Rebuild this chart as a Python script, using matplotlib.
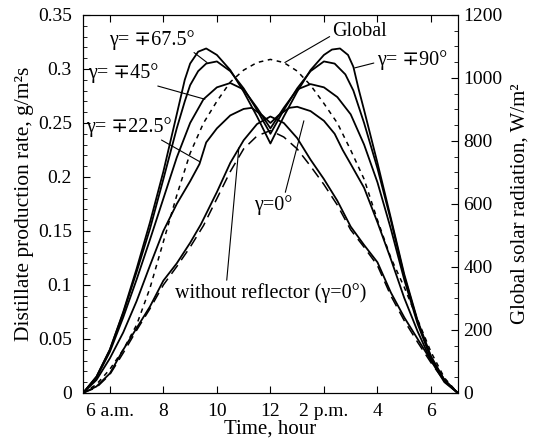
import matplotlib
matplotlib.use('Agg')
import matplotlib.pyplot as plt
import numpy as np
from matplotlib.ticker import MultipleLocator

plt.rcParams['font.family'] = ['Liberation Serif', 'DejaVu Serif']
plt.rcParams['font.size'] = 14.5

# time, hour (5 = 5 a.m., 19 = 7 p.m.)
t_90 = [5.0, 5.5, 6.0, 6.5, 7.0, 7.5, 8.0, 8.5, 8.8, 9.0, 9.3, 9.6, 10.0, 10.5, 11.0, 11.5, 12.0,
        12.5, 13.0, 13.5, 14.0, 14.3, 14.6, 14.9, 15.1, 15.3, 15.5, 16.0, 16.5, 17.0, 17.5, 18.0, 18.5, 19.0]
p_90 = [0, 0.015, 0.04, 0.075, 0.115, 0.158, 0.205, 0.258, 0.29, 0.305, 0.316, 0.319, 0.313, 0.299, 0.279, 0.256, 0.231,
        0.256, 0.279, 0.299, 0.313, 0.318, 0.319, 0.313, 0.302, 0.281, 0.262, 0.213, 0.162, 0.11, 0.067, 0.034, 0.012, 0]

t_67 = [5.0, 5.5, 6.0, 6.5, 7.0, 7.5, 8.0, 8.5, 8.8, 9.0, 9.3, 9.6, 10.0, 10.5, 11.0, 11.5, 12.0,
        12.5, 13.0, 13.5, 14.0, 14.4, 14.8, 15.1, 15.3, 15.5, 16.0, 16.5, 17.0, 17.5, 18.0, 18.5, 19.0]
p_67 = [0, 0.015, 0.04, 0.074, 0.112, 0.152, 0.198, 0.245, 0.27, 0.285, 0.298, 0.305, 0.307, 0.298, 0.282, 0.262, 0.24,
        0.262, 0.282, 0.298, 0.307, 0.305, 0.295, 0.28, 0.265, 0.25, 0.208, 0.16, 0.108, 0.066, 0.033, 0.012, 0]

t_45 = [5.0, 5.5, 6.0, 6.5, 7.0, 7.5, 8.0, 8.5, 9.0, 9.5, 10.0, 10.5, 11.0, 11.5, 12.0,
        12.5, 13.0, 13.5, 14.0, 14.5, 15.0, 15.5, 16.0, 16.5, 17.0, 17.5, 18.0, 18.5, 19.0]
p_45 = [0, 0.014, 0.038, 0.07, 0.105, 0.142, 0.18, 0.218, 0.25, 0.272, 0.283, 0.287, 0.281, 0.264, 0.245,
        0.264, 0.281, 0.286, 0.283, 0.274, 0.258, 0.23, 0.195, 0.152, 0.105, 0.064, 0.032, 0.011, 0]

t_22 = [5.0, 5.5, 6.0, 6.5, 7.0, 7.5, 8.0, 8.5, 9.0, 9.35, 9.6, 10.0, 10.5, 11.0, 11.3, 11.7, 12.0,
        12.3, 12.7, 13.0, 13.5, 14.0, 14.4, 14.7, 15.0, 15.5, 16.0, 16.5, 17.0, 17.5, 18.0, 18.5, 19.0]
p_22 = [0, 0.012, 0.032, 0.056, 0.085, 0.118, 0.15, 0.175, 0.196, 0.212, 0.232, 0.245, 0.257, 0.263, 0.264, 0.257, 0.25,
        0.257, 0.264, 0.265, 0.261, 0.252, 0.24, 0.225, 0.212, 0.19, 0.158, 0.124, 0.088, 0.057, 0.03, 0.01, 0]

t_0 = [5.0, 5.5, 6.0, 6.5, 7.0, 7.5, 8.0, 8.5, 9.0, 9.4, 10.0, 10.5, 11.0, 11.5, 12.0,
       12.5, 13.0, 13.5, 14.0, 14.5, 15.0, 15.5, 16.0, 16.5, 17.0, 17.5, 18.0, 18.5, 19.0]
p_0 = [0, 0.006, 0.018, 0.04, 0.06, 0.08, 0.104, 0.12, 0.139, 0.156, 0.186, 0.213, 0.234, 0.249, 0.256,
       0.25, 0.236, 0.216, 0.198, 0.178, 0.154, 0.137, 0.121, 0.093, 0.07, 0.05, 0.03, 0.012, 0]

t_noref = [5.0, 5.5, 6.0, 6.5, 7.0, 7.5, 8.0, 8.5, 9.0, 9.5, 10.0, 10.5, 11.0, 11.5, 12.0,
           12.5, 13.0, 13.5, 14.0, 14.5, 15.0, 15.5, 16.0, 16.5, 17.0, 17.5, 18.0, 18.5, 19.0]
p_noref = [0, 0.005, 0.017, 0.037, 0.058, 0.078, 0.1, 0.117, 0.135, 0.155, 0.18, 0.205, 0.226, 0.238, 0.243,
           0.237, 0.226, 0.21, 0.193, 0.174, 0.151, 0.135, 0.118, 0.09, 0.067, 0.047, 0.028, 0.011, 0]

# global solar radiation, W/m2
t_glob = [5.0, 5.5, 6.0, 6.5, 7.0, 7.5, 8.0, 8.5, 9.0, 9.5, 10.0, 10.5, 11.0, 11.5, 12.0,
          12.5, 13.0, 13.5, 14.0, 14.5, 15.0, 15.5, 16.0, 16.5, 17.0, 17.5, 18.0, 18.5, 19.0]
glob = [0, 27, 75, 137, 216, 333, 480, 627, 761, 857, 926, 987, 1025, 1049, 1059,
        1049, 1022, 977, 919, 857, 771, 679, 549, 429, 336, 233, 130, 48, 0]

x_ticks = [6, 8, 10, 12, 14, 16, 18]
x_labels = ['6 a.m.', '8', '10', '12', '2 p.m.', '4', '6']
y_ticks = [0, 0.05, 0.1, 0.15, 0.2, 0.25, 0.3, 0.35]
y_labels = ['0', '0.05', '0.1', '0.15', '0.2', '0.25', '0.3', '0.35']

fig = plt.figure(figsize=(5.36, 4.41), dpi=100)
ax = fig.add_axes([0.155, 0.109, 0.699, 0.857])
ax2 = ax.twinx()

lw = 1.3
ax.plot(t_90, p_90, color='black', lw=lw)
ax.plot(t_67, p_67, color='black', lw=lw)
ax.plot(t_45, p_45, color='black', lw=lw)
ax.plot(t_22, p_22, color='black', lw=lw)
ax.plot(t_0, p_0, color='black', lw=lw)
ax.plot(t_noref, p_noref, color='black', lw=1.1, dashes=(7, 4))
ax2.plot(t_glob, glob, color='black', lw=1.1, dashes=(3, 3))

ax.set_xlim(5, 19)
ax.set_ylim(0, 0.35)
ax2.set_ylim(0, 1200)
ax.set_xticks(x_ticks)
ax.set_xticklabels(x_labels)
ax.set_yticks(y_ticks)
ax.set_yticklabels(y_labels)
ax.yaxis.set_minor_locator(MultipleLocator(0.01))
ax2.set_yticks(range(0, 1201, 200))
ax2.yaxis.set_minor_locator(MultipleLocator(50))

ax.tick_params(which='both', direction='in', top=True, right=False, labelsize=14)
ax.tick_params(which='major', length=5)
ax.tick_params(which='minor', length=3)
ax.tick_params(axis='x', pad=7)
ax.tick_params(axis='y', pad=8)
ax2.tick_params(which='both', direction='in', labelsize=14)
ax2.tick_params(which='major', length=5, pad=4)
ax2.tick_params(which='minor', length=3)

ax.set_xlabel('Time, hour', labelpad=0, fontsize=15)
ax.set_ylabel('Distillate production rate, g/m²s', labelpad=3, fontsize=15.5)
ax2.set_ylabel('Global solar radiation, W/m²', labelpad=6, fontsize=15)

ap = dict(arrowstyle='-', lw=0.8, color='black', shrinkA=0, shrinkB=0)
ax.annotate('Global', xy=(12.54, 0.306), xytext=(15.34, 0.335), ha='center', va='center',
            arrowprops=dict(ap, relpos=(0, 0.3)))
ax.annotate('γ= ∓90°', xy=(15.15, 0.301), xytext=(17.28, 0.308), ha='center', va='center',
            arrowprops=dict(ap, relpos=(0, 0.4)))
ax.annotate('γ= ∓67.5°', xy=(9.63, 0.306), xytext=(7.57, 0.327), ha='center', va='center',
            arrowprops=dict(ap, relpos=(0.92, 0.1)))
ax.annotate('γ= ∓45°', xy=(9.55, 0.272), xytext=(6.5, 0.296), ha='center', va='center',
            arrowprops=dict(ap, relpos=(0.8, 0.05)))
ax.annotate('γ= ∓22.5°', xy=(9.37, 0.214), xytext=(6.72, 0.246), ha='center', va='center',
            arrowprops=dict(ap, relpos=(0.8, 0.05)))
ax.annotate('γ=0°', xy=(13.25, 0.252), xytext=(12.09, 0.174), ha='center', va='center',
            arrowprops=dict(ap, relpos=(0.8, 0.95)))
ax.annotate('without reflector (γ=0°)', xy=(10.82, 0.227), xytext=(12.0, 0.0926), ha='center', va='center',
            arrowprops=dict(ap, relpos=(0.27, 0.95)))

fig.savefig('out.png', dpi=100)
